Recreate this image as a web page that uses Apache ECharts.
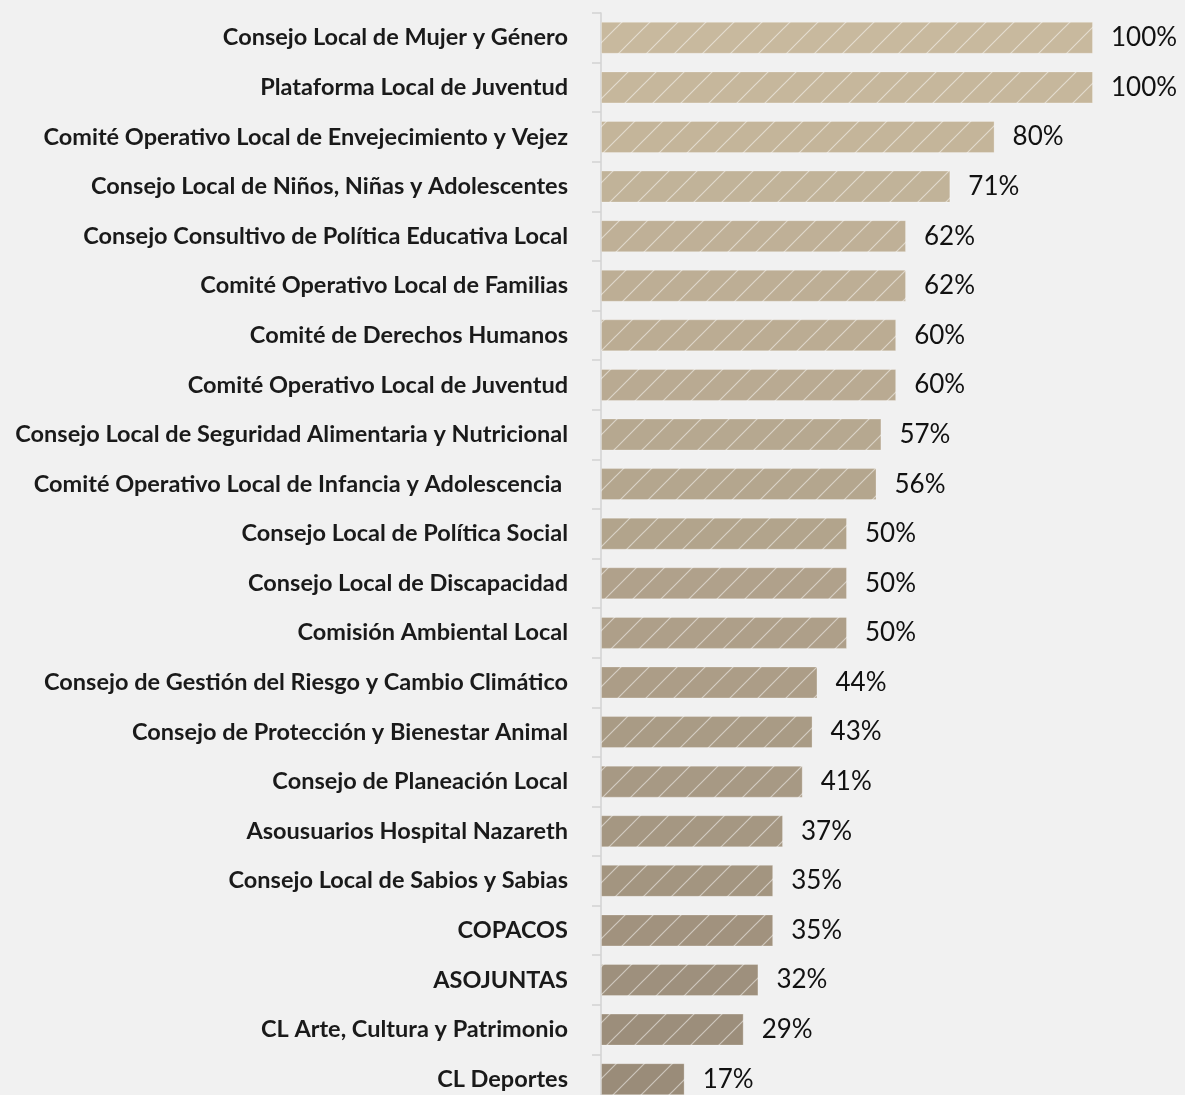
<!DOCTYPE html>
<html>
<head>
<meta charset="utf-8">
<script src="https://cdn.jsdelivr.net/npm/echarts@6/dist/echarts.min.js"></script>
<style>
  html, body { margin: 0; padding: 0; background: #f1f1f1; }
  #main { width: 1185px; height: 1095px; }
</style>
</head>
<body>
<div id="main"></div>
<script>
// categorias y porcentajes
var categories = [
  'Consejo Local de Mujer y Género',
  'Plataforma Local de Juventud',
  'Comité Operativo Local de Envejecimiento y Vejez',
  'Consejo Local de Niños, Niñas y Adolescentes',
  'Consejo Consultivo de Política Educativa Local',
  'Comité Operativo Local de Familias',
  'Comité de Derechos Humanos',
  'Comité Operativo Local de Juventud',
  'Consejo Local de Seguridad Alimentaria y Nutricional',
  'Comité Operativo Local de Infancia y Adolescencia ',
  'Consejo Local de Política Social',
  'Consejo Local de Discapacidad',
  'Comisión Ambiental Local',
  'Consejo de Gestión del Riesgo y Cambio Climático',
  'Consejo de Protección y Bienestar Animal',
  'Consejo de Planeación Local',
  'Asousuarios Hospital Nazareth',
  'Consejo Local de Sabios y Sabias',
  'COPACOS',
  'ASOJUNTAS',
  'CL Arte, Cultura y Patrimonio',
  'CL Deportes'
]
var values = [100, 100, 80, 71, 62, 62, 60, 60, 57, 56, 50, 50, 50, 44, 43, 41, 37, 35, 35, 32, 29, 17]

// color de cada barra: de claro (arriba) a oscuro (abajo)
var colorTop = [200, 185, 158]
var colorBottom = [154, 140, 121]
function barColor (i) {
  var t = i / (categories.length - 1)
  var c = colorTop.map(function (v, k) { return Math.round(v + (colorBottom[k] - v) * t) })
  return 'rgb(' + c.join(',') + ')'
}

// patron rayado (lineas diagonales claras)
function hatch (base) {
  var s = 28
  var cv = document.createElement('canvas')
  cv.width = s
  cv.height = s
  var ctx = cv.getContext('2d')
  ctx.fillStyle = base
  ctx.fillRect(0, 0, s, s)
  ctx.strokeStyle = 'rgba(255,255,255,0.5)'
  ctx.lineWidth = 1.2
  ctx.beginPath()
  ctx.moveTo(-s / 2, s / 2); ctx.lineTo(s / 2, -s / 2)
  ctx.moveTo(0, s); ctx.lineTo(s, 0)
  ctx.moveTo(s / 2, s * 1.5); ctx.lineTo(s * 1.5, s / 2)
  ctx.stroke()
  return { image: cv, repeat: 'repeat' }
}

var chart = echarts.init(document.getElementById('main'))

chart.setOption({
  backgroundColor: 'transparent',
  animation: false,
  grid: {
    left: 601,
    right: 92,
    top: 13,
    height: 1091,
    outerBoundsMode: 'none',
    containLabel: false
  },
  xAxis: {
    type: 'value',
    min: 0,
    max: 100,
    show: false
  },
  yAxis: {
    type: 'category',
    inverse: true,
    data: categories,
    axisLine: {
      show: true,
      lineStyle: { color: '#d2d2d2', width: 1.5 }
    },
    axisTick: {
      show: true,
      length: 9,
      lineStyle: { color: '#d2d2d2', width: 1.5 }
    },
    axisLabel: {
      margin: 33,
      color: '#1a1a1a',
      fontFamily: 'Lato',
      fontWeight: 'bold',
      fontSize: 23.5
    }
  },
  series: [
    {
      type: 'bar',
      barWidth: 32,
      data: values.map(function (v, i) {
        return {
          value: v,
          itemStyle: {
            color: hatch(barColor(i)),
            borderColor: 'rgba(255,255,255,0.25)',
            borderWidth: 1
          }
        }
      }),
      label: {
        show: true,
        position: 'right',
        distance: 18,
        formatter: '{c}%',
        color: '#111',
        fontFamily: 'Lato',
        fontSize: 26
      }
    }
  ]
})
</script>
</body>
</html>
